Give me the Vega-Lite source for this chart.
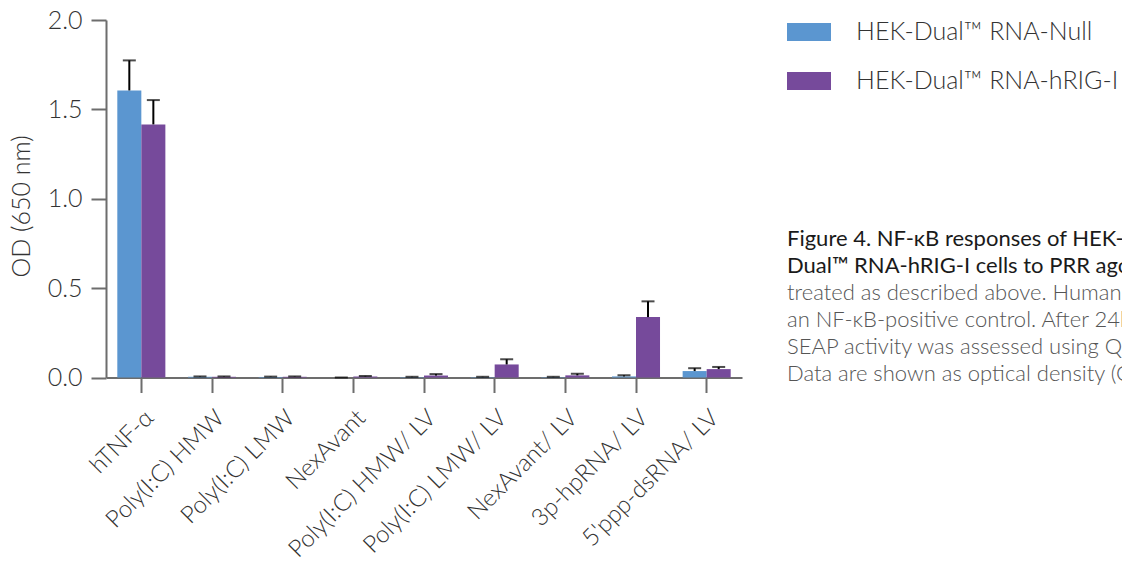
{
  "$schema": "https://vega.github.io/schema/vega-lite/v6.json",
  "width": 636,
  "height": 357.5,
  "autosize": {"type": "none"},
  "padding": {"left": 106, "top": 20, "right": 380, "bottom": 186.5},
  "background": "white",
  "config": {
    "view": {"stroke": null},
    "font": "Lato",
    "title": {"lineHeight": 27, "subtitleLineHeight": 27}
  },
  "title": {
    "text": ["Figure 4. NF-κB responses of HEK-Dual™ RNA-Null and HEK-", "Dual™ RNA-hRIG-I cells to PRR agonists. Cells were"],
    "subtitle": ["treated as described above. Human (h)TNF-α was used as", "an NF-κB-positive control. After 24h incubation, the NF-κB-induced", "SEAP activity was assessed using QUANTI-Blue™ Solution.", "Data are shown as optical density (OD) at 650 nm."],
    "orient": "top",
    "anchor": "start",
    "frame": "group",
    "offset": 0,
    "dx": 681,
    "dy": 378,
    "font": "Lato",
    "fontSize": 22,
    "fontWeight": 400,
    "color": "#1a1a1a",
    "lineHeight": 27,
    "subtitleFont": "Lato",
    "subtitleFontSize": 22,
    "subtitleFontWeight": 300,
    "subtitleColor": "#555555",
    "subtitleLineHeight": 27,
    "subtitlePadding": 5
  },
  "data": {
    "values": [
      {"cat": "hTNF-α", "cell": "HEK-Dual™ RNA-Null", "od": 1.606, "upper": 1.774},
      {"cat": "hTNF-α", "cell": "HEK-Dual™ RNA-hRIG-I", "od": 1.416, "upper": 1.552},
      {"cat": "Poly(I:C) HMW", "cell": "HEK-Dual™ RNA-Null", "od": 0.004, "upper": 0.006},
      {"cat": "Poly(I:C) HMW", "cell": "HEK-Dual™ RNA-hRIG-I", "od": 0.004, "upper": 0.006},
      {"cat": "Poly(I:C) LMW", "cell": "HEK-Dual™ RNA-Null", "od": 0.003, "upper": 0.005},
      {"cat": "Poly(I:C) LMW", "cell": "HEK-Dual™ RNA-hRIG-I", "od": 0.004, "upper": 0.006},
      {"cat": "NexAvant", "cell": "HEK-Dual™ RNA-Null", "od": 0.0, "upper": 0.0},
      {"cat": "NexAvant", "cell": "HEK-Dual™ RNA-hRIG-I", "od": 0.006, "upper": 0.009},
      {"cat": "Poly(I:C) HMW/ LV", "cell": "HEK-Dual™ RNA-Null", "od": 0.002, "upper": 0.004},
      {"cat": "Poly(I:C) HMW/ LV", "cell": "HEK-Dual™ RNA-hRIG-I", "od": 0.011, "upper": 0.019},
      {"cat": "Poly(I:C) LMW/ LV", "cell": "HEK-Dual™ RNA-Null", "od": 0.002, "upper": 0.004},
      {"cat": "Poly(I:C) LMW/ LV", "cell": "HEK-Dual™ RNA-hRIG-I", "od": 0.073, "upper": 0.102},
      {"cat": "NexAvant/ LV", "cell": "HEK-Dual™ RNA-Null", "od": 0.002, "upper": 0.004},
      {"cat": "NexAvant/ LV", "cell": "HEK-Dual™ RNA-hRIG-I", "od": 0.012, "upper": 0.021},
      {"cat": "3p-hpRNA/ LV", "cell": "HEK-Dual™ RNA-Null", "od": 0.006, "upper": 0.012},
      {"cat": "3p-hpRNA/ LV", "cell": "HEK-Dual™ RNA-hRIG-I", "od": 0.338, "upper": 0.426},
      {"cat": "5'ppp-dsRNA/ LV", "cell": "HEK-Dual™ RNA-Null", "od": 0.036, "upper": 0.052},
      {"cat": "5'ppp-dsRNA/ LV", "cell": "HEK-Dual™ RNA-hRIG-I", "od": 0.047, "upper": 0.059}
    ]
  },
  "encoding": {
    "x": {
      "field": "cat",
      "type": "nominal",
      "sort": null,
      "scale": {"paddingInner": 0.32, "paddingOuter": 0.16},
      "axis": {
        "title": null,
        "labelAngle": -45,
        "labelFont": "Lato",
        "labelFontSize": 24,
        "labelFontWeight": 300,
        "labelColor": "#333333",
        "labelPadding": 13,
        "labelLimit": 0,
        "tickSize": 15,
        "tickWidth": 2,
        "tickColor": "#6d6d6d",
        "domainColor": "#6d6d6d",
        "domainWidth": 2
      }
    },
    "xOffset": {
      "field": "cell",
      "type": "nominal",
      "sort": ["HEK-Dual™ RNA-Null", "HEK-Dual™ RNA-hRIG-I"],
      "scale": {"paddingInner": 0, "paddingOuter": 0}
    }
  },
  "layer": [
    {
      "mark": {"type": "bar"},
      "encoding": {
        "y": {
          "field": "od",
          "type": "quantitative",
          "scale": {"domain": [0, 2], "nice": false},
          "axis": {
            "title": "OD (650 nm)",
            "values": [0, 0.5, 1, 1.5, 2],
            "format": ".1f",
            "grid": false,
            "labelFont": "Lato",
            "labelFontSize": 25,
            "labelFontWeight": 300,
            "labelColor": "#333333",
            "labelPadding": 9,
            "tickSize": 15,
            "tickWidth": 2,
            "tickColor": "#6d6d6d",
            "domainColor": "#6d6d6d",
            "domainWidth": 2,
            "titleFont": "Lato",
            "titleFontSize": 25,
            "titleFontWeight": 300,
            "titleColor": "#333333",
            "titlePadding": 13,
            "titleY": 186
          }
        },
        "color": {
          "field": "cell",
          "type": "nominal",
          "scale": {
            "domain": ["HEK-Dual™ RNA-Null", "HEK-Dual™ RNA-hRIG-I"],
            "range": ["#5b96d0", "#764a9b"]
          },
          "legend": {
            "title": null,
            "orient": "none",
            "legendX": 681,
            "legendY": -10,
            "padding": 0,
            "symbolType": "M-1,-0.409H1V0.409H-1Z",
            "symbolSize": 1936,
            "symbolStrokeWidth": 0,
            "symbolOpacity": 1,
            "labelOffset": 25,
            "labelFont": "Lato",
            "labelFontSize": 25,
            "labelFontWeight": 300,
            "labelColor": "#333333",
            "labelLimit": 0,
            "rowPadding": 14
          }
        }
      }
    },
    {
      "mark": {"type": "rule", "color": "black", "strokeWidth": 2},
      "encoding": {
        "y": {"field": "od", "type": "quantitative"},
        "y2": {"field": "upper"}
      }
    },
    {
      "mark": {"type": "tick", "color": "black", "size": 13, "thickness": 2},
      "encoding": {
        "y": {"field": "upper", "type": "quantitative"}
      }
    }
  ]
}
